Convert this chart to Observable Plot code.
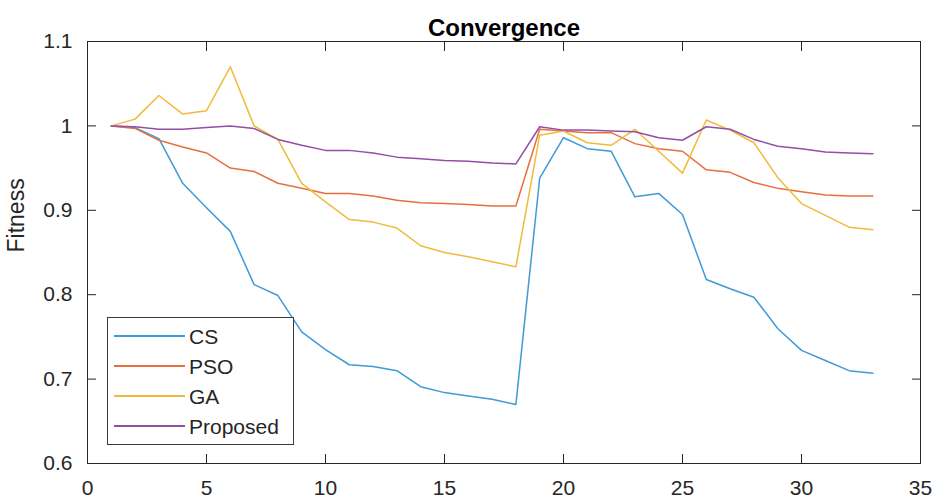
<!DOCTYPE html>
<html><head><meta charset="utf-8">
<script src="https://cdn.jsdelivr.net/npm/d3@7"></script>
<script src="https://cdn.jsdelivr.net/npm/@observablehq/plot@0.6"></script>
<style>
body{margin:0;background:#fff;}
#wrap{position:relative;width:942px;height:504px;font-family:"Liberation Sans",Arial,sans-serif;}
#legend{position:absolute;left:107px;top:317px;width:187px;height:128px;border:1px solid #3a3a3a;background:#fff;box-sizing:border-box;}
.row{position:absolute;left:0;height:30px;display:flex;align-items:center;}
.sw{width:71px;height:0;border-top:2px solid;margin-left:6px;margin-right:4px;}
.lb{font-size:21px;color:#262626;line-height:1;}
</style></head>
<body><div id="wrap"></div>
<script>
const iterations = [1,2,3,4,5,6,7,8,9,10,11,12,13,14,15,16,17,18,19,20,21,22,23,24,25,26,27,28,29,30,31,32,33];
const seriesNames = ["CS","PSO","GA","Proposed"];
const seriesColors = ["#3f9ad8","#e5703f","#f0bb3a","#944ea6"];
const cs = [1.000,0.998,0.985,0.932,0.903,0.875,0.812,0.799,0.756,0.735,0.717,0.715,0.710,0.691,0.684,0.680,0.676,0.670,0.938,0.986,0.973,0.970,0.916,0.920,0.895,0.818,0.807,0.797,0.760,0.734,0.722,0.710,0.707];
const pso = [1.000,0.997,0.983,0.975,0.968,0.950,0.946,0.932,0.926,0.920,0.920,0.917,0.912,0.909,0.908,0.907,0.905,0.905,0.996,0.994,0.992,0.992,0.979,0.973,0.970,0.948,0.945,0.933,0.926,0.922,0.918,0.917,0.917];
const ga = [1.000,1.008,1.036,1.014,1.018,1.070,1.000,0.984,0.932,0.910,0.889,0.886,0.879,0.858,0.850,0.845,0.839,0.833,0.989,0.994,0.980,0.977,0.996,0.970,0.944,1.007,0.995,0.980,0.939,0.908,0.894,0.880,0.877];
const proposed = [1.000,0.999,0.996,0.996,0.998,1.000,0.997,0.984,0.977,0.971,0.971,0.968,0.963,0.961,0.959,0.958,0.956,0.955,0.999,0.995,0.995,0.994,0.993,0.986,0.983,0.999,0.996,0.984,0.976,0.973,0.969,0.968,0.967];
const xTicks = [0,5,10,15,20,25,30,35];
const yTicks = [0.6,0.7,0.8,0.9,1.0,1.1];
const titleText = "Convergence";
const yLabel = "Fitness";

const seriesValues = [cs, pso, ga, proposed];
const table = [];
seriesNames.forEach((name, i) => {
  iterations.forEach((it, j) => table.push({series: name, iteration: it, fitness: seriesValues[i][j]}));
});

const ink = "#262626";
const fmt = d => String(+d.toFixed(1));

const chart = Plot.plot({
  width: 942, height: 504,
  marginLeft: 87, marginRight: 22, marginTop: 41, marginBottom: 41,
  style: {fontFamily: "'Liberation Sans', Arial, sans-serif", background: "#fff"},
  x: {domain: [0, 35], ticks: xTicks},
  y: {domain: [0.6, 1.1], ticks: yTicks},
  color: {domain: seriesNames, range: seriesColors},
  marks: [
    Plot.frame({stroke: ink, strokeWidth: 1}),
    Plot.axisX(xTicks, {anchor: "bottom", tickSize: -9, tickFormat: () => "", label: null, stroke: ink}),
    Plot.axisX(xTicks, {anchor: "top", tickSize: -9, tickFormat: () => "", label: null, stroke: ink}),
    Plot.axisY(yTicks, {anchor: "left", tickSize: -9, tickFormat: () => "", label: null, stroke: ink}),
    Plot.axisY(yTicks, {anchor: "right", tickSize: -9, tickFormat: () => "", label: null, stroke: ink}),
    Plot.axisX(xTicks, {anchor: "bottom", tickSize: 0, tickPadding: 17, fontSize: 21, fill: ink, label: null, tickFormat: fmt}),
    Plot.axisY(yTicks, {anchor: "left", tickSize: 0, tickPadding: 15, fontSize: 21, fill: ink, label: null, tickFormat: fmt}),
    Plot.line(table, {x: "iteration", y: "fitness", z: "series", stroke: "series", strokeWidth: 1.5}),
    Plot.text([titleText], {frameAnchor: "top", dy: -23, fontSize: 24, fontWeight: "bold", fill: "#000"}),
    Plot.text([yLabel], {frameAnchor: "left", dx: -71, rotate: -90, fontSize: 23, fill: ink})
  ]
});
const wrap = document.getElementById("wrap");
wrap.appendChild(chart);

const legend = document.createElement("div");
legend.id = "legend";
seriesNames.forEach((name, i) => {
  const row = document.createElement("div");
  row.className = "row";
  row.style.top = (3 + i * 30) + "px";
  const sw = document.createElement("div");
  sw.className = "sw";
  sw.style.borderTopColor = seriesColors[i];
  const lb = document.createElement("span");
  lb.className = "lb";
  lb.textContent = name;
  row.appendChild(sw); row.appendChild(lb);
  legend.appendChild(row);
});
wrap.appendChild(legend);
</script>
</body></html>
